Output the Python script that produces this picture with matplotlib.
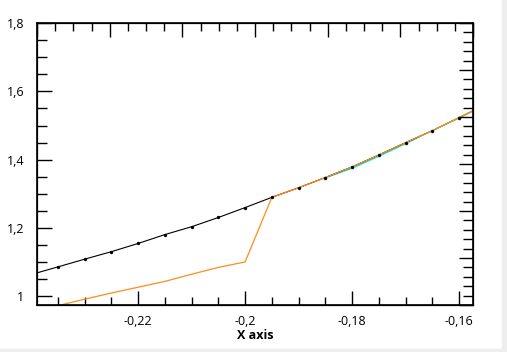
import matplotlib
matplotlib.use("Agg")
import matplotlib.pyplot as plt
from matplotlib.ticker import MultipleLocator, FuncFormatter
from matplotlib.patches import Rectangle

plt.rcParams['font.family'] = ['Open Sans', 'DejaVu Sans']

# black series (points every 0.005)
x_black = [-0.24, -0.235, -0.23, -0.225, -0.22, -0.215, -0.21, -0.205, -0.2,
           -0.195, -0.19, -0.185, -0.18, -0.175, -0.17, -0.165, -0.16, -0.155]
y_black = [1.064, 1.0865, 1.109, 1.131, 1.155, 1.181, 1.204, 1.231, 1.260,
           1.290, 1.318, 1.348, 1.379, 1.414, 1.450, 1.485, 1.523, 1.5615]

# orange series, joins the black one at -0.195
x_orange = [-0.235, -0.23, -0.225, -0.22, -0.215, -0.21, -0.205, -0.2,
            -0.195, -0.19, -0.185, -0.18, -0.175, -0.17, -0.165, -0.16, -0.155]
y_orange = [0.973, 0.992, 1.010, 1.027, 1.044, 1.065, 1.085, 1.101,
            1.290, 1.318, 1.348, 1.379, 1.414, 1.450, 1.485, 1.523, 1.5615]

# cyan series, slightly under the others
x_cyan = [-0.185, -0.18, -0.175, -0.17, -0.1675]
y_cyan = [1.347, 1.375, 1.410, 1.447, 1.466]

# gold series at the right end
x_gold = [-0.1675, -0.165, -0.16, -0.155]
y_gold = [1.467, 1.485, 1.523, 1.5615]


def comma(v, pos):
    return f"{v:g}".replace('.', ',')


fig = plt.figure(figsize=(5.07, 3.52), dpi=100)
fig.patches.append(Rectangle((502 / 507, 0), 5 / 507, 1, transform=fig.transFigure,
                             color='#eeeeee', zorder=0))
fig.patches.append(Rectangle((0, 0), 1, 3 / 352, transform=fig.transFigure,
                             color='#eeeeee', zorder=0))

ax = fig.add_axes([37 / 507, 47 / 352, 436 / 507, 282 / 352])

ax.plot(x_black, y_black, color='black', lw=0.8)
ax.plot(x_orange, y_orange, color='#ff8c1a', lw=0.9)
ax.plot(x_cyan, y_cyan, color='#00e8e8', lw=0.9, zorder=1.9)
ax.plot(x_gold, y_gold, color='#c8a040', lw=1.0, zorder=2.5)
# markers on top
ax.plot(x_black[11:], y_black[11:], ls='none', marker='s', ms=3,
        mfc='#d0d0d0', mec='none', alpha=0.6, zorder=3)
ax.plot(x_black, y_black, ls='none', marker='o', ms=1.4, color='black', zorder=4)

ax.set_xlim(-0.2389, -0.1574)
ax.set_ylim(0.975, 1.8)

ax.xaxis.set_major_locator(MultipleLocator(0.02))
ax.xaxis.set_minor_locator(MultipleLocator(0.005))
ax.yaxis.set_major_locator(MultipleLocator(0.2))
ax.yaxis.set_minor_locator(MultipleLocator(0.05))
ax.xaxis.set_major_formatter(FuncFormatter(comma))
ax.yaxis.set_major_formatter(FuncFormatter(comma))

ax.tick_params(which='both', direction='in', top=False, right=False,
               labelsize=9, colors='black', width=1)
ax.tick_params(axis='x', which='major', length=10, pad=7)
ax.tick_params(axis='x', which='minor', length=6)
ax.tick_params(axis='y', which='major', length=11, pad=9)
ax.tick_params(axis='y', which='minor', length=7)
for s in ax.spines.values():
    s.set_linewidth(1.2)

ax.set_xlabel('X axis', fontsize=9, fontweight='bold', labelpad=1)

# top axis
ax_top = ax.twiny()
ax_top.set_xlim(0, 6)
ax_top.xaxis.set_major_locator(MultipleLocator(1))
ax_top.xaxis.set_minor_locator(MultipleLocator(0.25))
ax_top.tick_params(which='both', direction='in', labeltop=False, width=1)
ax_top.tick_params(which='major', length=10)
ax_top.tick_params(which='minor', length=6)

# right axis
ax_right = ax.twinx()
ax_right.set_ylim(0, 6)
ax_right.yaxis.set_major_locator(MultipleLocator(1))
ax_right.yaxis.set_minor_locator(MultipleLocator(0.2))
ax_right.tick_params(which='both', direction='in', labelright=False, width=1)
ax_right.tick_params(which='major', length=10)
ax_right.tick_params(which='minor', length=7)

fig.savefig('out.png', dpi=100)
